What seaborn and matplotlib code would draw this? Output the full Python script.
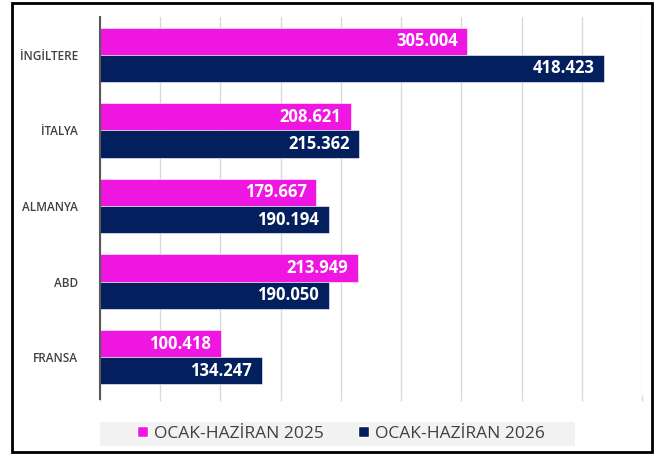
import pandas as pd
import seaborn as sns
import matplotlib.pyplot as plt
from matplotlib.patches import Rectangle, Patch

# values
countries = ["İNGİLTERE", "İTALYA", "ALMANYA", "ABD", "FRANSA"]
series_names = ["OCAK-HAZİRAN 2025", "OCAK-HAZİRAN 2026"]
vals_2025 = [305004, 208621, 179667, 213949, 100418]
vals_2026 = [418423, 215362, 190194, 190050, 134247]
colors = ["#EE16E0", "#031F5E"]

df = pd.DataFrame({
    "country": countries * 2,
    "period": [series_names[0]] * 5 + [series_names[1]] * 5,
    "value": vals_2025 + vals_2026,
})

sns.set_theme(style="white")
plt.rcParams['font.family'] = ['Open Sans', 'DejaVu Sans']

fig = plt.figure(figsize=(6.64, 4.57), dpi=100)
ax = fig.add_axes([100 / 664, 62 / 457, 542 / 664, 378 / 457])

sns.barplot(data=df, y="country", x="value", hue="period", order=countries,
            hue_order=series_names, palette=colors, orient="h", width=0.72,
            saturation=1, ax=ax, legend=False, edgecolor="white", linewidth=0.4)

ax.set_xlim(0, 450000)
ax.set_xticks(range(0, 450001, 50000))
ax.set_xticklabels([])
ax.xaxis.grid(True, color="#D9D9D9", linewidth=1)
ax.set_axisbelow(True)
ax.tick_params(axis="x", bottom=True, length=4, color="#D9D9D9", width=1)
ax.tick_params(axis="y", left=False, labelsize=8.5, labelcolor="#404040", pad=10)
for lab in ax.get_yticklabels():
    lab.set_fontweight("semibold")
ax.set_xlabel("")
ax.set_ylabel("")
for s in ["top", "right", "bottom"]:
    ax.spines[s].set_visible(False)
ax.spines["left"].set_color("#595959")
ax.spines["left"].set_linewidth(1.5)
ax.spines["left"].set_bounds(ax.get_ylim()[0] + 0.05, ax.get_ylim()[1])

# value labels inside bar ends
for cont in ax.containers:
    for bar in cont:
        w = bar.get_width()
        ax.annotate(f"{int(w):,}".replace(",", "."),
                    (w, bar.get_y() + bar.get_height() / 2),
                    xytext=(-7, 0), textcoords="offset points",
                    ha="right", va="center", color="white",
                    fontsize=12, fontweight="bold")

# legend with its grey band
fig.patches.append(Rectangle((100 / 664, 1 - 446 / 457), 475 / 664, 24 / 457,
                             transform=fig.transFigure, facecolor="#F2F2F2",
                             edgecolor="none", zorder=0))
handles = [Patch(facecolor=c) for c in colors]
leg = fig.legend(handles, series_names, loc="center", bbox_to_anchor=(341 / 664, 1 - 434 / 457),
                 ncol=2, frameon=False, fontsize=12.5, handlelength=0.6, handleheight=0.6,
                 handletextpad=0.35, columnspacing=2.0, borderpad=0.2)
for t in leg.get_texts():
    t.set_color("#404040")

fig.patches.append(Rectangle((12 / 664, 5 / 457), 640 / 664, 449 / 457,
                             transform=fig.transFigure, fill=False,
                             edgecolor="black", linewidth=2))

fig.savefig("out.png", dpi=100)
